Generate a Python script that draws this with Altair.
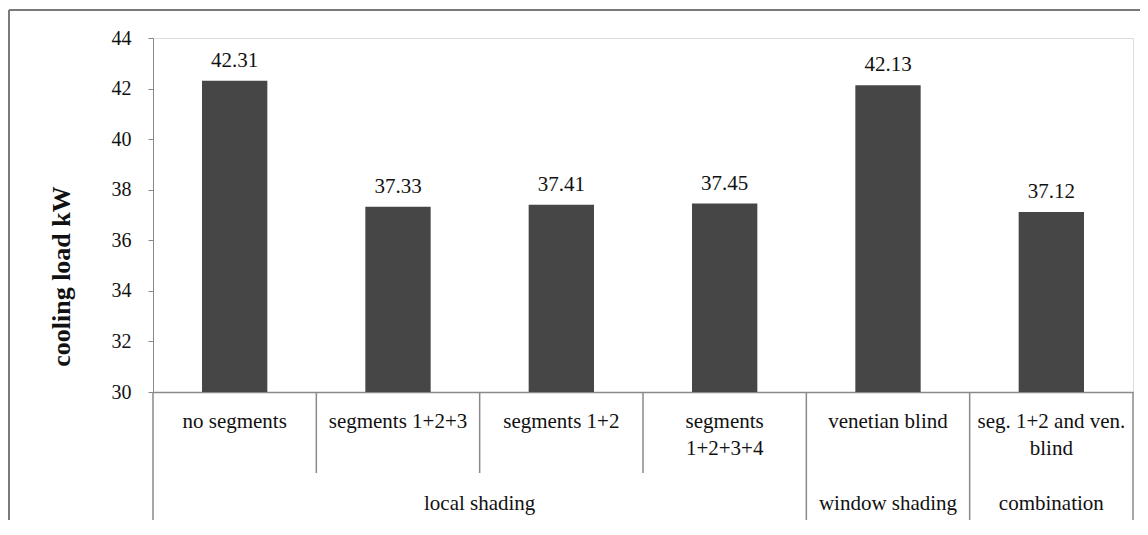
import altair as alt
import pandas as pd

# ---- data ----
categories = ["no segments", "segments 1+2+3", "segments 1+2",
              "segments\n1+2+3+4", "venetian blind", "seg. 1+2 and ven.\nblind"]
values = [42.31, 37.33, 37.41, 37.45, 42.13, 37.12]
groups = ["local shading", "local shading", "local shading", "local shading",
          "window shading", "combination"]
y_ticks = [30, 32, 34, 36, 38, 40, 42, 44]

W, H = 980, 354
FONT = "Liberation Serif"
BAR = "#464646"
LINE = "#8a8a8a"
TXT = "#111111"

df = pd.DataFrame({"category": categories, "value": values, "group": groups})

# category boundaries (index units) and whether they close a group
n = len(categories)
short_pos, long_pos = [], []
for i in range(n + 1):
    if i == 0 or i == n or groups[i] != groups[i - 1]:
        long_pos.append(i)
    else:
        short_pos.append(i)

group_names = []
for g in groups:
    if g not in group_names:
        group_names.append(g)
group_center = []
for g in group_names:
    idx = [i for i, gg in enumerate(groups) if gg == g]
    group_center.append((min(idx) + max(idx) + 1) / 2)
gdf = pd.DataFrame({"group": group_names, "center": group_center})

xband = alt.X("category:N", sort=categories,
              scale=alt.Scale(paddingInner=0.6, paddingOuter=0.3), axis=None)
yq = alt.Y("value:Q", scale=alt.Scale(domain=[y_ticks[0], y_ticks[-1]], nice=False, zero=False),
           axis=alt.Axis(values=y_ticks, tickSize=5, tickColor=LINE, domainColor=LINE,
                         labelFont=FONT, labelFontSize=20, labelColor=TXT, labelPadding=17,
                         grid=False, title="cooling load kW", titleFont=FONT,
                         titleFontSize=26, titleFontWeight="bold", titleColor=TXT,
                         titleX=-92, titleY=238, titleBaseline="middle"))

qscale = alt.Scale(domain=[0, n], nice=False, zero=False)

bars = alt.Chart(df).mark_bar(color=BAR).encode(
    x=xband, y=yq, y2=alt.datum(y_ticks[0]))

vlabels = alt.Chart(df).mark_text(font=FONT, fontSize=21, color=TXT,
                                  baseline="alphabetic", dy=-14).encode(
    x=xband, y=alt.Y("value:Q"), text=alt.Text("value:Q", format=".2f"))

clabels = alt.Chart(df).mark_text(font=FONT, fontSize=21, color=TXT,
                                  baseline="alphabetic", lineBreak="\n",
                                  lineHeight=27).encode(
    x=xband, y=alt.value(H + 36), text="category:N")

short_sep = alt.Chart(pd.DataFrame({"pos": short_pos})).mark_rule(
    color=LINE, strokeWidth=1.5).encode(
    x=alt.X("pos:Q", scale=qscale,
            axis=alt.Axis(ticks=False, labels=False, grid=False, title=None,
                          domainColor=LINE, domainWidth=1.5)),
    y=alt.value(H), y2=alt.value(H + 81))

long_sep = alt.Chart(pd.DataFrame({"pos": long_pos})).mark_rule(
    color=LINE, strokeWidth=1.5).encode(
    x=alt.X("pos:Q", scale=qscale, axis=None),
    y=alt.value(H), y2=alt.value(H + 140))

glabels = alt.Chart(gdf).mark_text(font=FONT, fontSize=21, color=TXT,
                                   baseline="alphabetic").encode(
    x=alt.X("center:Q", scale=qscale, axis=None),
    y=alt.value(H + 118), text="group:N")

border_top = alt.Chart(pd.DataFrame({"k": [0]})).mark_rule(color="#7a7a7a", strokeWidth=2).encode(
    x=alt.value(-144), x2=alt.value(W + 7), y=alt.value(-28))
border_left = alt.Chart(pd.DataFrame({"k": [0]})).mark_rule(color="#7a7a7a", strokeWidth=2).encode(
    x=alt.value(-144), y=alt.value(-28), y2=alt.value(H + 150))

chart = alt.layer(bars, vlabels, clabels, short_sep, long_sep, glabels,
                  border_top, border_left).resolve_scale(x="independent").properties(
    width=W, height=H,
    padding={"left": 145, "top": 30, "right": 7, "bottom": 128},
    autosize=alt.AutoSizeParams(type="none"),
).configure_view(stroke=None).configure(background="white")

chart.save("out.html", embed_options={"renderer": "svg", "actions": False})
